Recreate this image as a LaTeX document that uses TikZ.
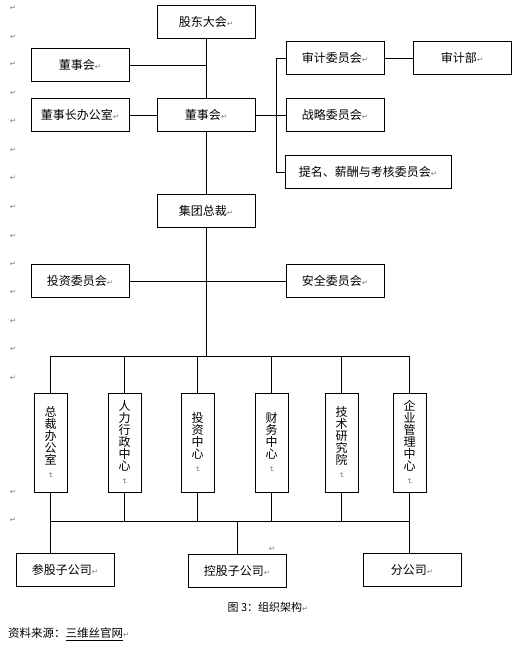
\documentclass[tikz,border=0pt]{standalone}
\usepackage{fontspec}
\setmainfont{Noto Sans CJK SC}
\newfontfamily\symfont{DejaVu Sans}
\usetikzlibrary{positioning}
\usepackage{graphicx}

\newcommand{\pmark}{{\color{gray}\symfont\fontsize{7.5}{7.5}\selectfont ↵}}
\newcommand{\vmark}{\rotatebox{-90}{\pmark}}

\tikzset{
  unit/.style={draw, line width=0.9pt, minimum width=98pt, minimum height=33pt,
    inner sep=0pt, font=\fontsize{12}{12}\selectfont},
  vunit/.style={draw, line width=0.9pt, minimum width=33pt, minimum height=99pt,
    inner sep=0pt, align=center, font=\fontsize{12}{12}\selectfont},
  link/.style={line width=0.9pt},
  margin/.style={inner sep=0pt}
}

\begin{document}
\begin{tikzpicture}[x=1pt,y=-1pt]
  \useasboundingbox (0,0) rectangle (520,648);

  % top part
  \node[unit] (gdh) at (206,22) {股东大会\pmark};
  \node[unit] (dsh1) at (80,65) {董事会\pmark};
  \node[unit] (dszb) at (80,115) {董事长办公室\pmark};
  \node[unit] (dsh) at (206,115) {董事会\pmark};
  \node[unit] (sjwy) at (335,58) {审计委员会\pmark};
  \node[unit] (sjb) at (462,58) {审计部\pmark};
  \node[unit] (zlwy) at (335,115) {战略委员会\pmark};
  \node[unit, minimum width=166pt] (tmwy) at (368,172) {提名、薪酬与考核委员会\pmark};
  \node[unit] (jtzc) at (206,211) {集团总裁\pmark};
  \node[unit] (tzwy) at (80,281) {投资委员会\pmark};
  \node[unit] (aqwy) at (335,281) {安全委员会\pmark};

  % centres
  \node[vunit] (v1) at (50.5,442.5) {总\\裁\\办\\公\\室\\[-4pt]\vmark};
  \node[vunit] (v2) at (124.5,442.5) {人\\力\\行\\政\\中\\心\\[-4pt]\vmark};
  \node[vunit] (v3) at (197.5,442.5) {投\\资\\中\\心\\[-4pt]\vmark};
  \node[vunit] (v4) at (271.5,442.5) {财\\务\\中\\心\\[-4pt]\vmark};
  \node[vunit] (v5) at (341.5,442.5) {技\\术\\研\\究\\院\\[-4pt]\vmark};
  \node[vunit] (v6) at (409.5,442.5) {企\\业\\管\\理\\中\\心\\[-4pt]\vmark};

  % companies
  \node[unit] (cgzgs) at (65,570) {参股子公司\pmark};
  \node[unit] (kgzgs) at (237,571) {控股子公司\pmark};
  \node[unit] (fgs) at (412,570) {分公司\pmark};

  \coordinate (topbus) at (0,356);
  \coordinate (botbus) at (0,521);

  \draw[link] (gdh) -- (dsh);
  \draw[link] (dsh1) -- (dsh1 -| gdh);
  \draw[link] (dszb) -- (dsh);
  \draw[link] (dsh) -- (jtzc);
  \draw[link] (dsh) -- (zlwy);
  \draw[link] (sjwy.west) -- ++(-9,0) |- (tmwy.west);
  \draw[link] (sjwy) -- (sjb);
  \draw[link] (tzwy) -- (aqwy);
  \draw[link] (jtzc) -- (jtzc |- topbus);
  \draw[link] (v1.north |- topbus) -- (v6.north |- topbus);
  \draw[link] (v1.south |- botbus) -- (v6.south |- botbus);
  \foreach \n in {v1,v2,v3,v4,v5,v6} {
    \draw[link] (\n.north) -- (\n.north |- topbus);
    \draw[link] (\n.south) -- (\n.south |- botbus);
  }
  \draw[link] (v1.south |- botbus) -- (v1.south |- cgzgs.north);
  \draw[link] (kgzgs.north) -- (kgzgs.north |- botbus);
  \draw[link] (v6.south |- botbus) -- (v6.south |- fgs.north);

  % captions
  \node[font=\fontsize{11}{11}\selectfont] (cap) at (268,607) {图 3：组织架构\pmark};
  \node[anchor=west, inner sep=0pt, font=\fontsize{11.5}{11.5}\selectfont] (src) at (8,634)
    {资料来源：\underline{三维丝官网}\pmark};

  % paragraph marks
  \foreach \y in {8,37,64,93,121,150,178,207,236,264,292,321,349,378,492,520}
    \node[margin] at (13,\y) {\pmark};
  \node[margin] (pm) at (272,549) {\pmark};
\end{tikzpicture}
\end{document}
